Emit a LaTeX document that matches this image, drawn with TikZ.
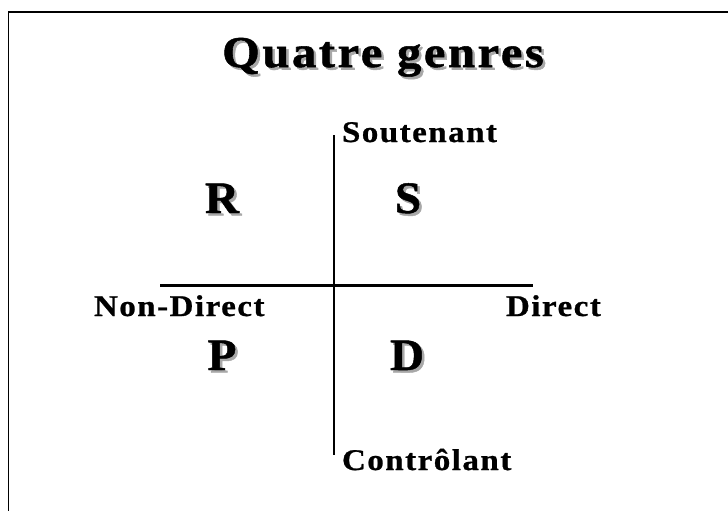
\documentclass[tikz,border=0pt]{standalone}
\usepackage{fontspec}
\setmainfont{Liberation Serif}
\newfontfamily\labfont[LetterSpace=5,FakeStretch=1.1,FakeBold=0.8]{Liberation Serif Bold}
\newfontfamily\titfont[LetterSpace=6,FakeStretch=1.1,FakeBold=1.2]{Liberation Serif Bold}
\newfontfamily\bigfont[FakeStretch=1.05,FakeBold=1]{Liberation Serif Bold}
\definecolor{shadowgray}{HTML}{A8A8A8}
\tikzset{
  axis/.style={line width=2.3pt, black},
  frameline/.style={line width=1.7pt, black},
  lab/.style={inner sep=0pt, outer sep=0pt, font=\labfont\fontsize{30}{30}\selectfont, anchor=base west},
  tit/.style={inner sep=0pt, outer sep=0pt, font=\titfont\fontsize{44}{44}\selectfont, anchor=base},
  big/.style={inner sep=0pt, outer sep=0pt, font=\bigfont\fontsize{45}{45}\selectfont, anchor=base},
  shad/.style={text=shadowgray},
}
\begin{document}
\begin{tikzpicture}[x=1pt,y=-1pt]
\useasboundingbox (0,0) rectangle (728,511);
\begin{scope}
\clip (0,0) rectangle (728,511);
\draw[frameline] (8.5,520) -- (8.5,12.3) -- (740,12.3);
\end{scope}
% title with shadow
\node[tit,shad] (titsh) at (385.5,69.5) {Quatre genres};
\node[tit] (title) at (383,67) {Quatre genres};
% axes
\coordinate (vtop) at (334,135);
\coordinate (vbot) at (334,455);
\coordinate (hl) at (160,285.5);
\coordinate (hr) at (533,285.5);
\draw[axis] (vtop) -- (vbot);
\draw[axis] (hl) -- (hr);
% axis labels
\node[lab] (sout) at (342,142) {Soutenant};
\node[lab] (ndir) at (94,316) {Non-Direct};
\node[lab] (dir) at (506,316) {Direct};
\node[lab] (cont) at (342,470) {Contrôlant};
% quadrant letters with shadow
\node[big,shad] (Rsh) at (224.5,215.5) {R};
\node[big] (R) at (222,213) {R};
\node[big,shad] (Ssh) at (410.5,215.5) {S};
\node[big] (S) at (408,213) {S};
\node[big,shad] (Psh) at (224.5,372.5) {P};
\node[big] (P) at (222,370) {P};
\node[big,shad] (Dsh) at (409.5,372.5) {D};
\node[big] (D) at (407,370) {D};
\end{tikzpicture}
\end{document}
